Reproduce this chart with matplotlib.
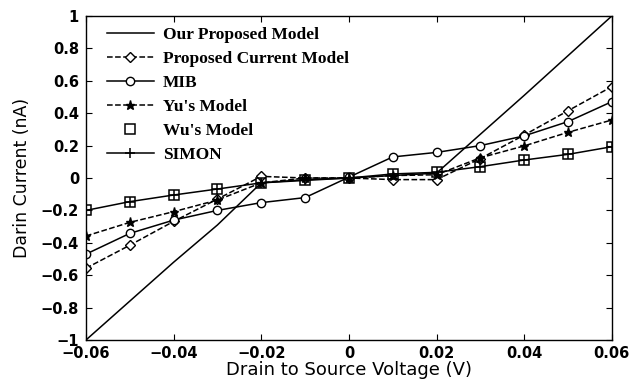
import numpy as np
import matplotlib
matplotlib.use("Agg")
import matplotlib.pyplot as plt

vds = [-0.06, -0.05, -0.04, -0.03, -0.02, -0.01, 0.0, 0.01, 0.02, 0.03, 0.04, 0.05, 0.06]

our_model = [-1.0, -0.76, -0.52, -0.29, -0.03, -0.015, 0.0, 0.015, 0.03, 0.27, 0.51, 0.755, 1.0]
proposed_current = [-0.557, -0.415, -0.268, -0.13, 0.01, 0.0, 0.0, -0.01, -0.01, 0.12, 0.265, 0.415, 0.564]
mib = [-0.47, -0.342, -0.26, -0.2, -0.152, -0.121, 0.005, 0.13, 0.158, 0.2, 0.26, 0.348, 0.471]
yu = [-0.358, -0.274, -0.208, -0.136, -0.03, 0.0, 0.0, 0.015, 0.02, 0.125, 0.198, 0.282, 0.358]
simon = [-0.2, -0.146, -0.105, -0.068, -0.03, -0.01, 0.0, 0.025, 0.035, 0.07, 0.111, 0.146, 0.193]
wu = simon

xtick_labels = ["\u22120.06", "\u22120.04", "\u22120.02", "0", "0.02", "0.04", "0.06"]
ytick_labels = ["\u22121", "\u22120.8", "\u22120.6", "\u22120.4", "\u22120.2", "0",
                "0.2", "0.4", "0.6", "0.8", "1"]

fig = plt.figure(figsize=(6.44, 3.83), dpi=100)
ax = fig.add_axes([0.1335, 0.1123, 0.8165, 0.8459])

ax.plot(vds, our_model, "k-", lw=1.1, label="Our Proposed Model")
ax.plot(vds, proposed_current, "k--", lw=1.1, marker="D", ms=5.5, mfc="white",
        mew=1.0, label="Proposed Current Model")
ax.plot(vds, mib, "k-", lw=1.1, marker="o", ms=6, mfc="white", mew=1.0, label="MIB")
ax.plot(vds, yu, "k--", lw=1.1, marker="*", ms=6.5, mfc="black", label="Yu's Model")
ax.plot(vds, wu, ls="none", marker="s", ms=7, mfc="none", mec="black", mew=1.1,
        label="Wu's Model")
ax.plot(vds, simon, "k-", lw=1.1, marker="+", ms=7, mew=1.1, label="SIMON")

ax.set_xlim(-0.06, 0.06)
ax.set_ylim(-1, 1)
ax.set_xticks(np.linspace(-0.06, 0.06, 7))
ax.set_yticks(np.linspace(-1, 1, 11))
ax.set_xticklabels(xtick_labels)
ax.set_yticklabels(ytick_labels)
ax.tick_params(direction="in", top=True, right=True, length=4.5, width=0.8)
ax.tick_params(axis="x", pad=4.5)
ax.tick_params(axis="y", pad=5)
for lbl in ax.get_xticklabels() + ax.get_yticklabels():
    lbl.set_fontfamily("DejaVu Sans")
    lbl.set_fontweight("bold")
    lbl.set_fontsize(10.5)
for sp in ax.spines.values():
    sp.set_linewidth(1.0)

ax.set_xlabel("Drain to Source Voltage (V)", fontfamily="DejaVu Sans", fontsize=13, labelpad=0)
ax.set_ylabel("Darin Current (nA)", fontfamily="DejaVu Sans", fontsize=12.5, labelpad=7)

ax.legend(loc="upper left", frameon=False, handlelength=2.7, labelspacing=0.45,
          borderaxespad=0, borderpad=0, handletextpad=0.5,
          bbox_to_anchor=(0.04, 0.967),
          prop={"family": "Liberation Serif", "weight": "bold", "size": 12.5})

fig.savefig("out.png", dpi=100)
